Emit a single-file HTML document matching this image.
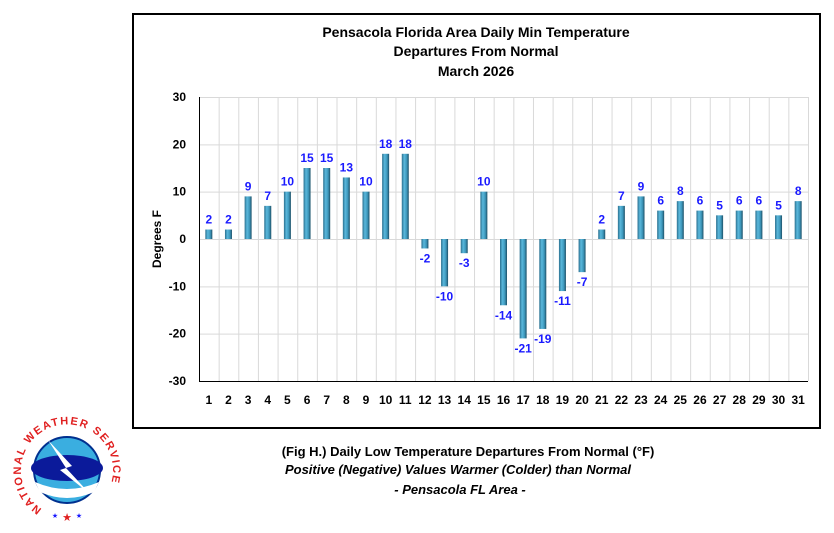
<!DOCTYPE html><html><head><style>body{margin:0;background:#fff}svg{display:block}</style></head><body>
<svg width="834" height="533" xmlns="http://www.w3.org/2000/svg" font-family="Liberation Sans, sans-serif">
<defs><linearGradient id="g" x1="0" x2="1"><stop offset="0" stop-color="#2a6f8e"/><stop offset="0.35" stop-color="#5ab8dc"/><stop offset="0.7" stop-color="#3d97bb"/><stop offset="1" stop-color="#1d4f66"/></linearGradient></defs>
<rect x="133" y="14" width="687" height="414" fill="#fff" stroke="#000" stroke-width="2"/>
<g font-weight="bold" font-size="14" text-anchor="middle" fill="#000">
<text x="476" y="37">Pensacola Florida Area Daily Min Temperature</text>
<text x="476" y="56">Departures From Normal</text>
<text x="476" y="76">March 2026</text></g>
<g id="grid" stroke="#d9d9d9" stroke-width="1"></g>
<g id="bars"></g>
<line x1="199.5" y1="97" x2="199.5" y2="381" stroke="#000"/>
<line x1="199" y1="381.5" x2="808" y2="381.5" stroke="#000"/>
<g font-weight="bold" font-size="12" text-anchor="end" id="yl"></g>
<text transform="translate(161,239) rotate(-90)" text-anchor="middle" font-size="12" font-weight="bold">Degrees F</text>
<g font-weight="bold" font-size="12" text-anchor="middle" id="xl"></g>
<g font-weight="bold" font-size="12" text-anchor="middle" fill="#1a1aff" id="vl"></g>
<g text-anchor="middle" font-size="13">
<text x="468" y="456" font-weight="bold">(Fig H.) Daily Low Temperature Departures From Normal (°F)</text>
<text x="458" y="474" font-weight="bold" font-style="italic">Positive (Negative) Values Warmer (Colder) than Normal</text>
<text x="460" y="494" font-weight="bold" font-style="italic">- Pensacola FL Area -</text></g>
<g>
<circle cx="67" cy="470" r="33" fill="#3aaee0" stroke="#00308f" stroke-width="2"/>
<ellipse cx="67" cy="468" rx="36" ry="13" fill="#0b1a9a"/>
<path d="M35 482 Q67 496 99 482 L94 492 Q67 504 40 492Z" fill="#fff"/>
<path d="M48 440 L72 466 L66 468 L90 494 L60 470 L66 468Z" fill="#fff"/>
<path id="arc" d="M42 509 A46 46 0 1 1 92 509" fill="none"/>
<text font-size="11" font-weight="bold" fill="#e02020" letter-spacing="1.6"><textPath href="#arc">NATIONAL WEATHER SERVICE</textPath></text>
<text x="67" y="521" text-anchor="middle" font-size="11" fill="#e02020">★</text>
<text x="55" y="518" text-anchor="middle" font-size="7" fill="#1a1aff">★</text>
<text x="79" y="518" text-anchor="middle" font-size="7" fill="#1a1aff">★</text>
</g>
</svg>
<script>
const v=[2,2,9,7,10,15,15,13,10,18,18,-2,-10,-3,10,-14,-21,-19,-11,-7,2,7,9,6,8,6,5,6,6,5,8];
const ns="http://www.w3.org/2000/svg",x0=199,w=609/31,Y=t=>239-t*284/60;
function e(p,t,a,txt){const n=document.createElementNS(ns,t);for(const k in a)n.setAttribute(k,a[k]);if(txt!=null)n.textContent=txt;document.getElementById(p).appendChild(n);}
for(let t=-30;t<=30;t+=10){e('grid','line',{x1:199,x2:808,y1:Y(t)+.5,y2:Y(t)+.5});e('yl','text',{x:186,y:Y(t)+4},t);}
for(let i=0;i<=31;i++)e('grid','line',{x1:x0+i*w+.5,x2:x0+i*w+.5,y1:97,y2:381});
v.forEach((d,i)=>{const c=x0+(i+.5)*w,y=Y(Math.max(d,0)),h=Math.abs(d)*284/60;
e('bars','rect',{x:c-3.5,y:y,width:7,height:h,fill:'url(#g)'});
e('xl','text',{x:c,y:404},i+1);
e('vl','text',{x:c,y:d>=0?y-6:Y(d)+14},d);});
</script>
</body></html>
